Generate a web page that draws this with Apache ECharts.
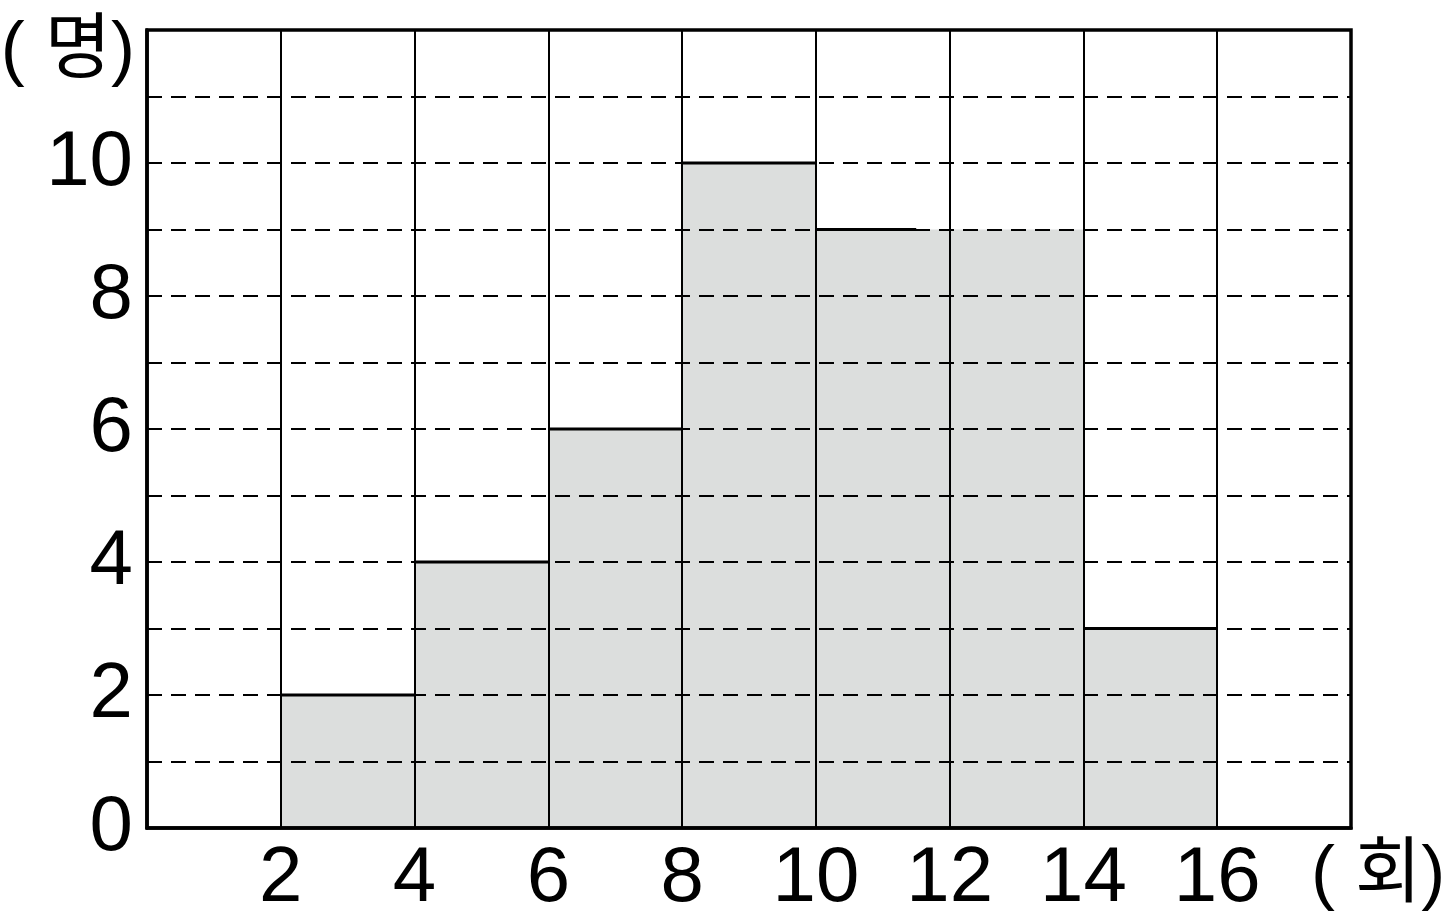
<!DOCTYPE html>
<html>
<head>
<meta charset="utf-8">
<script src="https://cdn.jsdelivr.net/npm/echarts@6/dist/echarts.min.js"></script>
<style>html,body{margin:0;padding:0;background:#fff;}#c{width:1448px;height:918px;}</style>
</head>
<body>
<div id="c"></div>
<script>
// bins (start, end) and counts
var binStarts = [2, 4, 6, 8, 10, 12, 14];
var binEnds   = [4, 6, 8, 10, 12, 14, 16];
var counts    = [2, 4, 6, 10, 9, 9, 3];
// bar-top solid segments as drawn in the picture: [from, to, value]
var topLines  = [[2, 4, 2], [4, 6, 4], [6, 8, 6], [8, 10, 10], [10, 11.5, 9], [14, 16, 3]];
var xTicks = [2, 4, 6, 8, 10, 12, 14, 16];
var yTicks = [0, 2, 4, 6, 8, 10];
var xUnit = '( 회)';
var yUnit = '( 명)';

var FONT = '"Liberation Sans", "Noto Sans CJK KR", sans-serif';
var chart = echarts.init(document.getElementById('c'));
var binData = binStarts.map(function (s, i) { return [s, binEnds[i], counts[i]]; });

chart.setOption({
  animation: false,
  backgroundColor: '#ffffff',
  grid: { left: 147, right: 97, top: 30, bottom: 90, show: true, borderColor: '#000', borderWidth: 3.5, z: 1,
          containLabel: false, outerBoundsMode: 'none' },
  xAxis: {
    type: 'value', min: 0, max: 18, interval: 2, z: 1,
    name: xUnit, nameLocation: 'end', nameGap: 0,
    nameTextStyle: { fontSize: 72, color: '#000', fontFamily: FONT, align: 'left', verticalAlign: 'top', padding: [12, 0, 0, -40] },
    axisLine: { show: true, lineStyle: { color: '#000', width: 3.5 } },
    axisTick: { show: false },
    axisLabel: {
      fontSize: 78, color: '#000', fontFamily: FONT, margin: 12,
      formatter: function (v) { return xTicks.indexOf(v) >= 0 ? String(v) : ''; }
    },
    splitLine: { show: true, lineStyle: { color: '#000', width: 2, type: 'solid' } }
  },
  yAxis: {
    type: 'value', min: 0, max: 12, interval: 1, z: 1,
    name: yUnit, nameLocation: 'end', nameGap: 0,
    nameTextStyle: { fontSize: 72, color: '#000', fontFamily: FONT, align: 'right', verticalAlign: 'top', padding: [-14, 12, 0, 0] },
    axisLine: { show: true, lineStyle: { color: '#000', width: 3.5 } },
    axisTick: { show: false },
    axisLabel: {
      fontSize: 78, color: '#000', fontFamily: FONT, margin: 14,
      formatter: function (v) { return yTicks.indexOf(v) >= 0 ? String(v) : ''; }
    },
    splitLine: { show: true, lineStyle: { color: '#000', width: 2, type: [15, 9] } }
  },
  series: [
    {
      type: 'custom', z: 0, silent: true,
      data: binData,
      encode: { x: [0, 1], y: 2 },
      renderItem: function (params, api) {
        var p0 = api.coord([api.value(0), api.value(2)]);
        var p1 = api.coord([api.value(1), 0]);
        return { type: 'rect', shape: { x: p0[0], y: p0[1], width: p1[0] - p0[0], height: p1[1] - p0[1] },
                 style: { fill: '#dcdedd' } };
      }
    },
    {
      type: 'custom', z: 5, silent: true,
      data: topLines,
      encode: { x: [0, 1], y: 2 },
      renderItem: function (params, api) {
        var a = api.coord([api.value(0), api.value(2)]);
        var b = api.coord([api.value(1), api.value(2)]);
        return { type: 'line', shape: { x1: a[0], y1: a[1], x2: b[0], y2: b[1] },
                 style: { stroke: '#000', lineWidth: 3 } };
      }
    }
  ]
});
</script>
</body>
</html>
